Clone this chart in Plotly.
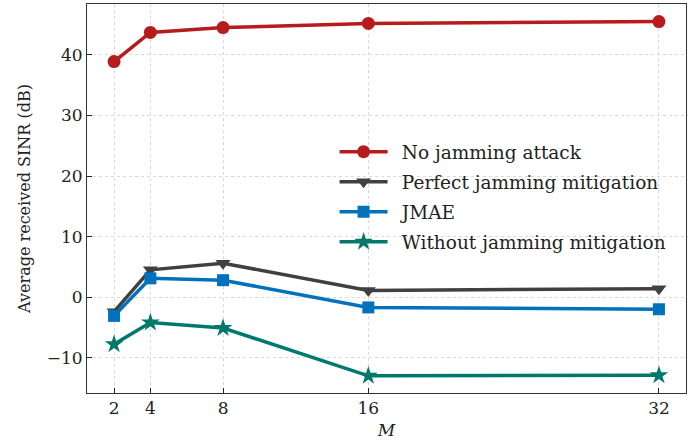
import plotly.graph_objects as go

M = [2, 4, 8, 16, 32]
no_jam = [38.9, 43.7, 44.5, 45.2, 45.5]
perfect = [-2.4, 4.5, 5.6, 1.1, 1.4]
jmae = [-3.1, 3.1, 2.8, -1.7, -2.0]
without = [-7.8, -4.2, -5.1, -13.0, -12.9]

names = ["No jamming attack", "Perfect jamming mitigation", "JMAE", "Without jamming mitigation"]
colors = ["#B71C1C", "#404040", "#0072BD", "#00796B"]
symbols = ["circle", "triangle-down", "square", "star"]
sizes = [13, 13, 12, 14]
series = [no_jam, perfect, jmae, without]

FONT = "'DejaVu Serif', serif"

fig = go.Figure()
for i, (name, ys, c, s, sz) in enumerate(zip(names, series, colors, symbols, sizes)):
    fig.add_trace(go.Scatter(
        x=M, y=ys, name="\u2002" + name, mode="lines+markers", legendgroup=f"g{i}",
        line=dict(color=c, width=3.5),
        marker=dict(symbol=s, size=sz, color=c, line=dict(width=0)),
    ))

fig.update_layout(
    width=697, height=446,
    margin=dict(l=87, r=11, t=4, b=53),
    paper_bgcolor="white", plot_bgcolor="white",
    font=dict(family=FONT, size=17, color="#222"),
    showlegend=True,
    legend=dict(x=0.4133, y=0.668, xanchor="left", yanchor="top",
                bgcolor="rgba(255,255,255,0)", borderwidth=0,
                font=dict(family=FONT, size=18.5, color="#222"),
                itemwidth=48, tracegroupgap=3),
    xaxis=dict(
        range=[0.51, 33.49], tickmode="array", tickvals=M, ticktext=[str(m) for m in M],
        ticks="inside", ticklen=5, tickcolor="#222",
        showgrid=True, gridcolor="#d9d9d9", griddash="dot", gridwidth=1,
        showline=True, linecolor="#333", linewidth=1, mirror=True,
        zeroline=False,
        title=dict(text="<i>M</i>", standoff=6, font=dict(family=FONT, size=17)),
    ),
    yaxis=dict(
        range=[-15.83, 48.4], tickmode="array", tickvals=[-10, 0, 10, 20, 30, 40],
        ticktext=["\u221210", "0", "10", "20", "30", "40"],
        ticks="inside", ticklen=5, tickcolor="#222",
        showgrid=True, gridcolor="#d9d9d9", griddash="dot", gridwidth=1,
        showline=True, linecolor="#333", linewidth=1, mirror=True,
        zeroline=False,
        title=dict(text="Average received SINR (dB)", standoff=12, font=dict(family=FONT, size=16)),
    ),
)

fig.write_html("out.html")
